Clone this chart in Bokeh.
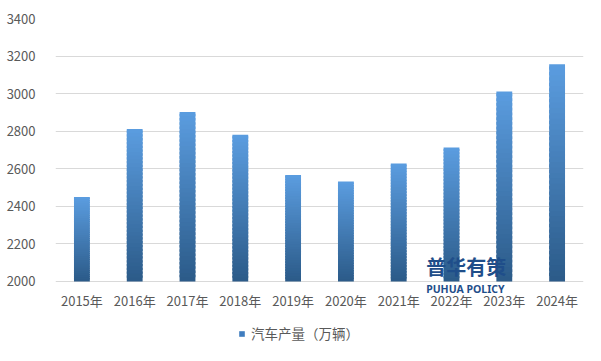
from bokeh.plotting import figure
from bokeh.models import (FactorRange, Range1d, FixedTicker, Legend, LegendItem,
                          Label, ColumnDataSource)
from bokeh.core.properties import value
from bokeh.embed import file_html
from bokeh.resources import INLINE

years = ["2015年", "2016年", "2017年", "2018年", "2019年",
         "2020年", "2021年", "2022年", "2023年", "2024年"]
production = [2450, 2812, 2902, 2781, 2567, 2532, 2628, 2713, 3011, 3156]
y_ticks = [2000, 2200, 2400, 2600, 2800, 3000, 3200, 3400]
series_name = "汽车产量（万辆）"

BASE = 2000
TOP_COLOR = (0x5B, 0x9D, 0xE0)
BOTTOM_COLOR = (0x2B, 0x5A, 0x88)
N = 40

FONT = "Noto Sans CJK SC"
TXT = "#595959"

# frame spans down to the figure bottom so labels and legend are not clipped
p = figure(width=585, height=345, output_backend="svg", toolbar_location=None,
           x_range=FactorRange(*years, range_padding=0),
           y_range=Range1d(1659.3, y_ticks[-1]),
           min_border_left=55, min_border_right=2, min_border_top=18,
           min_border_bottom=0)
p.outline_line_color = None

# gradient bars built from overlapping slices (bottom dark -> top light)
xs, bots, tops, cols = [], [], [], []
for yr, v in zip(years, production):
    h = (v - BASE) / N
    for k in range(N):
        t = (k + 0.5) / N
        c = tuple(int(round(b + (a - b) * t)) for a, b in zip(TOP_COLOR, BOTTOM_COLOR))
        xs.append(yr)
        bots.append(BASE + h * k)
        tops.append(min(v, BASE + h * (k + 1.6)))
        cols.append("#%02x%02x%02x" % c)
src = ColumnDataSource(dict(x=xs, bottom=bots, top=tops, color=cols))
p.vbar(x="x", bottom="bottom", top="top", width=0.3, source=src,
       fill_color="color", line_color=None)

# legend proxy
dummy = p.vbar(x=[years[0]], top=[BASE], bottom=[BASE], width=0.0,
               fill_color="#3F7DBF", line_color=None)

p.xgrid.grid_line_color = None
p.ygrid.grid_line_color = "#d9d9d9"
p.ygrid.ticker = FixedTicker(ticks=y_ticks)
p.yaxis.ticker = FixedTicker(ticks=y_ticks)
p.xaxis.visible = False

ax = p.yaxis[0]
ax.axis_line_color = None
ax.major_tick_line_color = None
ax.minor_tick_line_color = None
ax.major_label_text_font = FONT
ax.major_label_text_font_size = "13px"
ax.major_label_text_color = TXT
ax.major_label_standoff = 14

# category labels
p.text(x=years, y=[1899] * len(years), text=years, text_font=value(FONT),
       text_font_size="13px", text_color=TXT, text_align="center",
       text_baseline="middle")

legend = Legend(items=[LegendItem(label=series_name, renderers=[dummy])],
                location=(183, 2), orientation="horizontal",
                glyph_width=7, glyph_height=7, label_standoff=6,
                label_height=14, padding=0, margin=0, border_line_color=None,
                background_fill_alpha=0,
                label_text_font=FONT, label_text_font_size="13.5px",
                label_text_color=TXT)
p.add_layout(legend, "center")

# watermark
p.add_layout(Label(x=7.02, y=2003, text="普华有策", text_font=FONT,
                   text_font_size="20px", text_font_style="bold",
                   text_color="#1F4E8A", text_baseline="bottom"))
p.add_layout(Label(x=7.02, y=1996, text="PUHUA POLICY", text_font="Noto Sans",
                   text_font_size="10.5px", text_font_style="bold",
                   text_color="#1F4E8A", text_baseline="top"))

open("out.html", "w").write(file_html(p, INLINE))
